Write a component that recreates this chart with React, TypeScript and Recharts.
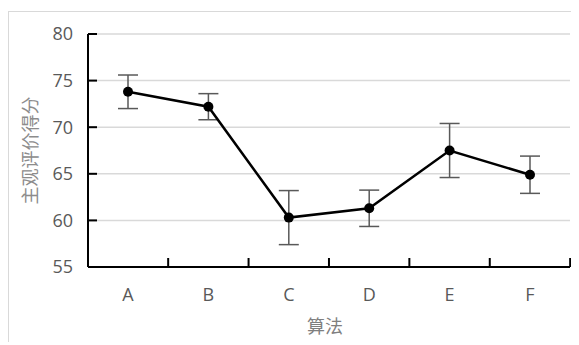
import React from 'react';
import {
  LineChart, Line, XAxis, YAxis, CartesianGrid, ErrorBar
} from 'recharts';

const algorithms = ['A', 'B', 'C', 'D', 'E', 'F'];
const scores = [73.8, 72.2, 60.3, 61.3, 67.5, 64.9];
const errors = [1.8, 1.4, 2.9, 1.95, 2.9, 2.0];
const yTicks = [55, 60, 65, 70, 75, 80];

const data = algorithms.map((name, i) => ({ name, score: scores[i], err: errors[i] }));

const tickFont = { fontFamily: '"Open Sans", "Noto Sans", sans-serif', fontSize: 18, fill: '#595959' };

const YTick = (props: any) => {
  const { x, y, payload } = props;
  return (
    <g>
      <line x1={x} y1={y} x2={x + 9} y2={y} stroke="#000" strokeWidth={2} />
      <text x={x - 15} y={y} dy="0.35em" textAnchor="end" {...tickFont}>{payload.value}</text>
    </g>
  );
};

const XTick = (props: any) => {
  const { x, y, payload, width, visibleTicksCount } = props;
  const band = (width || 482) / (visibleTicksCount || algorithms.length);
  const bx = x + band / 2;
  return (
    <g>
      <line x1={bx} y1={y} x2={bx} y2={y - 9} stroke="#000" strokeWidth={2} />
      <text x={x} y={y + 28} dy="0.35em" textAnchor="middle" {...tickFont}>{payload.value}</text>
    </g>
  );
};

const App: React.FC = () => {
  return (
    <div style={{ position: 'relative', top: 3, width: 570, height: 333, borderTop: '1px solid #d9d9d9', borderLeft: '1px solid #d9d9d9' }}>
      <LineChart width={570} height={333} data={data} margin={{ top: 22, right: 9, left: 0, bottom: 0 }}>
        <CartesianGrid vertical={false} stroke="#d9d9d9" strokeWidth={1.5} />
        <XAxis
          dataKey="name"
          height={78}
          stroke="#000"
          strokeWidth={2}
          tickSize={0}
          tickMargin={0}
          padding={{ left: 40, right: 40 }}
          tick={<XTick />}
          label={{
            value: '算法', position: 'insideBottom', offset: 12, dx: -4,
            style: { fontFamily: '"Noto Sans CJK SC", sans-serif', fontSize: 18, fill: '#7f7f7f' }
          }}
        />
        <YAxis
          domain={[55, 80]}
          ticks={yTicks}
          width={79}
          stroke="#000"
          strokeWidth={2}
          tickSize={0}
          tickMargin={0}
          tick={<YTick />}
          label={{
            value: '主观评价得分', angle: -90, position: 'insideLeft', offset: 22,
            style: { textAnchor: 'middle', fontFamily: '"Noto Sans CJK SC", sans-serif', fontSize: 18, fill: '#8c8c8c' }
          }}
        />
        <Line
          type="linear"
          dataKey="score"
          stroke="#000"
          strokeWidth={2.5}
          dot={{ r: 5, fill: '#000', stroke: '#000', strokeWidth: 0 }}
          isAnimationActive={false}
        >
          <ErrorBar dataKey="err" direction="y" width={10} stroke="#595959" strokeWidth={1.5} isAnimationActive={false} />
        </Line>
      </LineChart>
    </div>
  );
};

export default App;
